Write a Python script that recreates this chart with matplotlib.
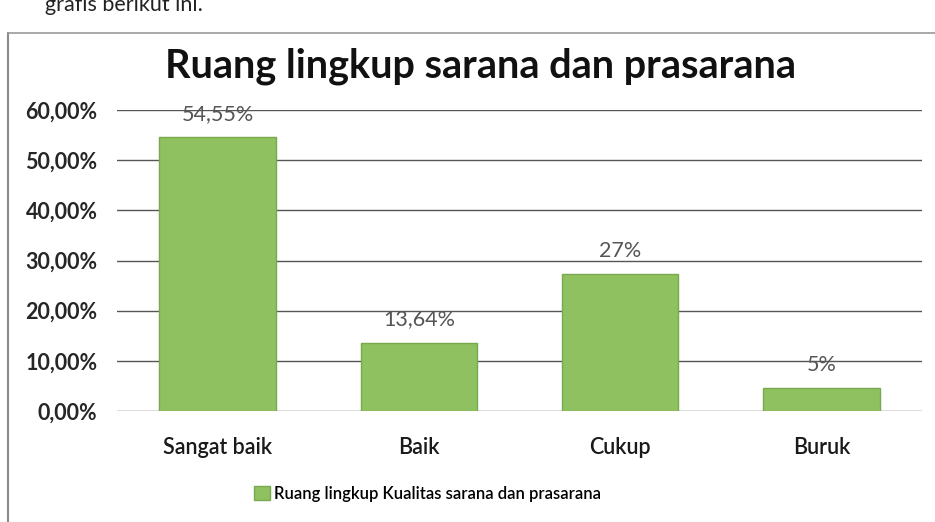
import matplotlib
matplotlib.use("Agg")
import matplotlib.pyplot as plt
from matplotlib.lines import Line2D
from matplotlib.patches import Patch

categories = ["Sangat baik", "Baik", "Cukup", "Buruk"]
values = [54.55, 13.64, 27.27, 4.55]
value_labels = ["54,55%", "13,64%", "27%", "5%"]
yticks = [0, 10, 20, 30, 40, 50, 60]
ytick_labels = ["0,00%", "10,00%", "20,00%", "30,00%", "40,00%", "50,00%", "60,00%"]
title = "Ruang lingkup sarana dan prasarana"
series_name = "Ruang lingkup Kualitas sarana dan prasarana"
top_text = "grafis berikut ini."

plt.rcParams['font.family'] = ['Lato', 'DejaVu Sans']
W, H = 935, 522
fig = plt.figure(figsize=(W/100, H/100), dpi=100)
fig.patch.set_facecolor('white')

# outer frame of the pasted chart
fig.add_artist(Line2D([8/W, 8/W], [0, 1-33/H], transform=fig.transFigure, color='#8a8a8a', lw=1.5))
fig.add_artist(Line2D([8/W, 1], [1-33/H, 1-33/H], transform=fig.transFigure, color='#9a9a9a', lw=1.2))
fig.text(45/W, 1-5/H, top_text, fontsize=15.5, color='#222222', va='center', ha='left')

ax = fig.add_axes([117/W, 1-411/H, (922-117)/W, 301/H])
x = list(range(len(categories)))
bars = ax.bar(x, values, width=0.58, color='#8fc160', edgecolor='#7aa84e', linewidth=1, zorder=3)
ax.set_xlim(-0.5, len(categories)-0.5)
ax.set_ylim(0, 60)
ax.set_yticks(yticks)
ax.set_yticklabels(ytick_labels, fontsize=15.5, fontweight='bold', color='#262626')
ax.set_xticks(x)
ax.set_xticklabels(categories, fontsize=15.5, color='#1a1a1a', fontweight='semibold')
ax.tick_params(axis='both', length=0)
ax.tick_params(axis='y', pad=14)
ax.tick_params(axis='x', pad=19)
for s in ax.spines.values():
    s.set_visible(False)
ax.grid(axis='y', color='#555555', lw=1, zorder=1)
for xi, v, lab in zip(x, values, value_labels):
    ax.annotate(lab, (xi, v), xytext=(0, 17), textcoords='offset points', ha='center', va='center',
                fontsize=15.5, color='#555555', zorder=4)

fig.text(480/W, 1-66/H, title, fontsize=28.5, fontweight='bold', color='#111111', ha='center', va='center')

handles = [Patch(facecolor='#8fc160', edgecolor='#7aa84e', label=series_name)]
fig.legend(handles=handles, loc='center', bbox_to_anchor=(428/W, 1-494/H), frameon=False,
           handlelength=0.9, handleheight=0.9, handletextpad=0.3,
           prop={'weight': 'semibold', 'size': 12})

fig.savefig('out.png', dpi=100)
